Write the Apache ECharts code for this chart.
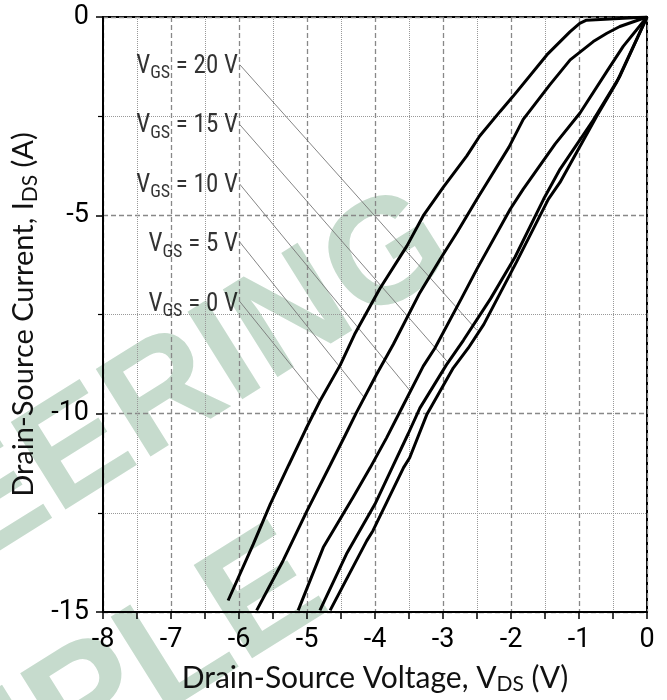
<!DOCTYPE html>
<html><head><meta charset="utf-8">
<script src="https://cdn.jsdelivr.net/npm/echarts@6/dist/echarts.min.js"></script>
<style>html,body{margin:0;padding:0;background:#fff}#c{width:667px;height:700px}</style>
</head><body><div id="c"></div>
<script>
// Axis ranges / ticks
const xMin = -8, xMax = 0, xStep = 1;
const yMin = -15, yMax = 0, yStep = 5;

// Curves: drain-source voltage (V) and current (A) per gate voltage
const vdsVgs0  = [0, -0.89, -0.99, -1.13, -1.47, -1.97, -2.16, -2.46, -2.65, -3.0, -3.29, -3.53, -3.93, -4.3, -4.51, -4.81, -5.02, -5.27, -5.54, -5.79, -6.16];
const idsVgs0  = [0, -0.08, -0.16, -0.37, -0.95, -2.0, -2.38, -3.0, -3.5, -4.3, -5.01, -5.77, -6.85, -8.0, -8.77, -9.68, -10.4, -11.3, -12.28, -13.29, -14.71];
const vdsVgs5  = [0, -0.4, -0.59, -0.79, -1.13, -1.43, -1.82, -2.03, -2.5, -2.79, -3.04, -3.34, -3.73, -3.98, -4.27, -4.44, -4.66, -5.0, -5.35, -5.74];
const idsVgs5  = [0, -0.24, -0.41, -0.62, -1.08, -1.71, -2.58, -3.28, -4.59, -5.42, -6.1, -6.95, -8.25, -9.02, -9.96, -10.55, -11.3, -12.45, -13.7, -14.96];
const vdsVgs10 = [0, -0.35, -0.59, -0.985, -1.35, -1.82, -2.01, -2.5, -2.73, -3.12, -3.29, -3.63, -3.83, -4.07, -4.32, -4.76, -5.13];
const idsVgs10 = [0, -0.74, -1.37, -2.42, -3.2, -4.34, -4.84, -6.35, -7.1, -8.35, -8.8, -9.94, -10.61, -11.36, -12.1, -13.37, -14.96];
const vdsVgs15 = [0, -0.4, -0.79, -1.28, -1.52, -1.94, -2.3, -2.7, -2.95, -3.34, -3.51, -3.73, -4.0, -4.42, -4.81];
const idsVgs15 = [0, -1.5, -2.6, -3.84, -4.59, -6.05, -7.1, -8.15, -8.77, -9.86, -10.5, -11.3, -12.28, -13.54, -14.96];
const vdsVgs20 = [0, -0.45, -0.74, -1.28, -1.45, -1.92, -2.4, -2.63, -2.85, -3.24, -3.49, -3.58, -4.03, -4.12, -4.66];
const idsVgs20 = [0, -1.66, -2.5, -4.17, -4.59, -6.18, -7.75, -8.35, -8.85, -10.03, -11.11, -11.36, -12.95, -13.2, -14.96];

// Curve labels and leader lines
const vgsValues   = ['20', '15', '10', '5', '0'];
const labelVds    = -6.0;
const labelIds    = [-1.25, -2.75, -4.25, -5.75, -7.25];
const leaderFromV = -5.99;
const leaderFromI = [-1.2, -2.71, -4.21, -5.67, -7.17];
const leaderToV   = [-2.5, -2.94, -3.49, -4.15, -4.81];
const leaderToI   = [-7.9, -8.68, -9.41, -9.61, -9.68];

const curves = [
  [vdsVgs0, idsVgs0], [vdsVgs5, idsVgs5], [vdsVgs10, idsVgs10],
  [vdsVgs15, idsVgs15], [vdsVgs20, idsVgs20]
];

const tickFont = 'Roboto, "Liberation Sans", sans-serif';
const labFont = '"Liberation Sans Narrow", "Roboto Condensed", "DejaVu Sans Condensed", Roboto, sans-serif';
const titleFont = 'Lato, "Open Sans", sans-serif';
const wmFont = 'bold 150px "Liberation Sans", Arial, sans-serif';

const series = [];
leaderFromI.forEach((y0, i) => {
  series.push({
    type: 'line', silent: true, symbol: 'none', z: 2,
    lineStyle: { color: '#777', width: 0.9 },
    data: [[leaderFromV, y0], [leaderToV[i], leaderToI[i]]]
  });
});
curves.forEach(c => {
  series.push({
    type: 'line', silent: true, symbol: 'none', z: 3,
    lineStyle: { color: '#000', width: 3 },
    data: c[0].map((v, i) => [v, c[1][i]])
  });
});
series.push({
  type: 'scatter', silent: true, symbolSize: 0, z: 4,
  data: labelIds.map((y, i) => ({
    value: [labelVds, y],
    label: { formatter: '{m|V}{s|GS}{m| = ' + vgsValues[i] + ' V}' }
  })),
  label: {
    show: true, position: 'left', distance: 1,
    rich: {
      m: { fontFamily: labFont, fontSize: 25, color: '#000', lineHeight: 28 },
      s: { fontFamily: labFont, fontSize: 18, color: '#000', lineHeight: 18, padding: [14, 0, 0, 0] }
    }
  }
});

const chart = echarts.init(document.getElementById('c'), null, { renderer: 'canvas' });
chart.setOption({
  animation: false,
  backgroundColor: '#fff',
  grid: { left: 103, right: 20, top: 17, bottom: 85, show: true, borderColor: '#000', borderWidth: 2, backgroundColor: 'transparent' },
  graphic: [
    { type: 'text', x: 438, y: 228, rotation: 32 * Math.PI / 180, z: -5, silent: true,
      style: { text: 'ENGINEERING', font: wmFont, fill: '#c6dbcd', align: 'right', verticalAlign: 'middle', textAlign: 'right', textVerticalAlign: 'middle' } },
    { type: 'text', x: 310, y: 570, rotation: 32 * Math.PI / 180, z: -5, silent: true,
      style: { text: 'SAMPLE', font: 'bold 160px "Liberation Sans", Arial, sans-serif', fill: '#c6dbcd', align: 'right', verticalAlign: 'middle', textAlign: 'right', textVerticalAlign: 'middle' } }
  ],
  xAxis: {
    type: 'value', min: xMin, max: xMax, interval: xStep,
    name: 'Drain-Source Voltage, V{sub|DS} (V)', nameLocation: 'middle', nameGap: 50,
    nameTextStyle: { fontFamily: titleFont, fontSize: 30, color: '#111',
      rich: { sub: { fontFamily: titleFont, fontSize: 21, color: '#111', padding: [12, 0, 0, 0] } } },
    axisLine: { show: true, onZero: false, lineStyle: { color: '#000', width: 2 } },
    axisTick: { show: true, length: 7, lineStyle: { color: '#000', width: 1.5 } },
    minorTick: { show: true, splitNumber: 2, length: 7, lineStyle: { color: '#000', width: 1.5 } },
    axisLabel: { fontFamily: tickFont, fontSize: 27, color: '#000', margin: 15 },
    splitLine: { show: true, lineStyle: { color: '#888', width: 1.3, type: [5, 3] } },
    minorSplitLine: { show: true, lineStyle: { color: '#999', width: 1, type: [1, 1] } }
  },
  yAxis: {
    type: 'value', min: yMin, max: yMax, interval: yStep,
    name: 'Drain-Source Current, I{sub|DS} (A)', nameLocation: 'middle', nameGap: 57, nameRotate: 90,
    nameTextStyle: { fontFamily: titleFont, fontSize: 29, color: '#111',
      rich: { sub: { fontFamily: titleFont, fontSize: 21, color: '#111', padding: [12, 0, 0, 0] } } },
    axisLine: { show: true, onZero: false, lineStyle: { color: '#000', width: 2 } },
    axisTick: { show: true, length: 7, lineStyle: { color: '#000', width: 1.5 } },
    minorTick: { show: true, splitNumber: 2, length: 5, lineStyle: { color: '#000', width: 1.2 } },
    axisLabel: { fontFamily: tickFont, fontSize: 27, color: '#000', margin: 14, padding: [5, 0, 0, 0] },
    splitLine: { show: true, lineStyle: { color: '#888', width: 1.3, type: [5, 3] } },
    minorSplitLine: { show: true, lineStyle: { color: '#999', width: 1, type: [1, 1] } }
  },
  series: series
});
</script></body></html>
